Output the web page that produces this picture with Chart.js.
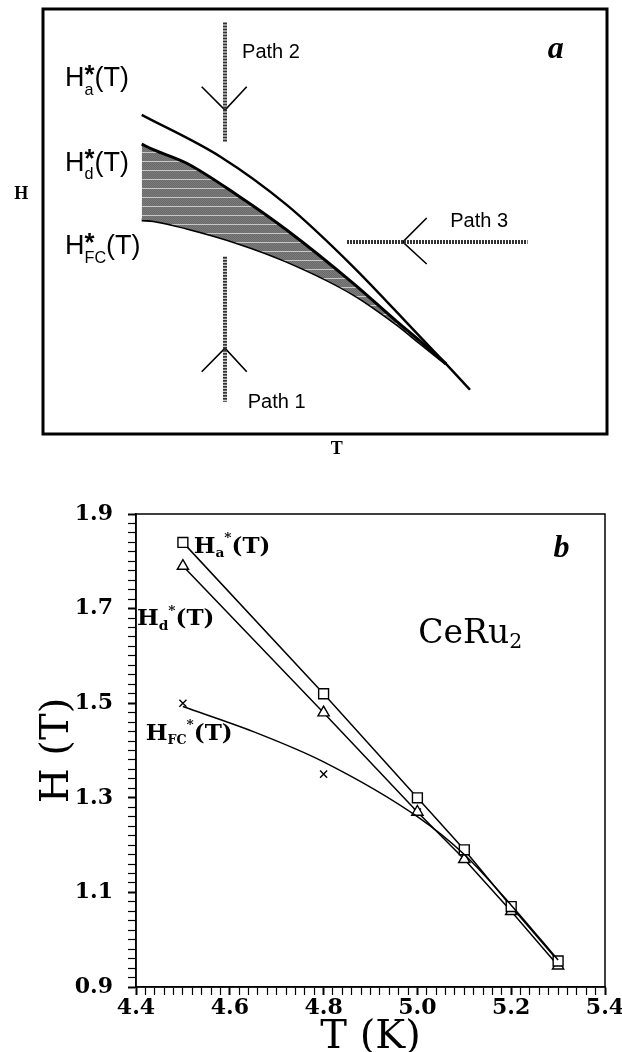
<!DOCTYPE html>
<html>
<head>
<meta charset="utf-8">
<script src="https://cdn.jsdelivr.net/npm/chart.js@4.4.1/dist/chart.umd.min.js"></script>
<style>
  html, body { margin: 0; padding: 0; background: #fff; overflow: hidden; }
  #wrap { position: relative; width: 622px; height: 1052px; }
  #sketch { position: absolute; left: 0; top: 0; }
  #data { position: absolute; left: 0; top: 470px; }
</style>
</head>
<body>
<div id="wrap">
  <canvas id="sketch" width="622" height="470"></canvas>
  <canvas id="data" width="622" height="582"></canvas>
</div>
<script>
// ---- panel a: schematic, arbitrary units (0-100 on both axes) ----
const sketchT = [17.5, 19.56, 25.48, 34.34, 43.21, 54.96, 62.7, 66.84, 71.45];
const sketchHd = [68.2, 66.9, 63.7, 56.3, 48.0, 35.5, 26.5, 21.9, 16.5];
const sketchHfc = [50.35, 50.2, 48.4, 45.0, 40.6, 32.9, 25.8, 21.4, 16.5];
const sketchHaT = [17.5, 31.38, 43.21, 54.96, 66.84, 71.45, 75.71];
const sketchHa = [75.1, 65.3, 53.9, 39.4, 22.9, 16.5, 10.4];

// measurement paths: [T, H] pairs
const path1Line = [[32.27, 41.7], [32.27, 7.6]];
const path1Arrow = [[28.14, 14.66], [32.27, 20.2], [36.12, 14.66]];
const path2Line = [[32.27, 96.8], [32.27, 68.8]];
const path2Arrow = [[28.14, 81.7], [32.27, 76.2], [36.12, 81.7]];
const path3Line = [[53.9, 45.18], [85.92, 45.18]];
const path3Arrow = [[68.03, 50.82], [63.79, 45.18], [68.03, 40.0]];

// ---- panel b: CeRu2 data ----
const tempK = [4.5, 4.8, 5.0, 5.1, 5.2, 5.3];
const hA = [1.84, 1.52, 1.30, 1.19, 1.07, 0.955];
const hD = [1.79, 1.48, 1.27, 1.17, 1.06, 0.945];
const hFC = [1.50, 1.35, 1.27, 1.178, 1.06, 0.95];
const fitT = [4.5, 4.65, 4.8, 5.0, 5.1, 5.2, 5.3];
const fitFC = [1.493, 1.44, 1.376, 1.26, 1.18, 1.073, 0.957];

const xy = (xs, ys) => xs.map((x, i) => ({x, y: ys[i]}));
const pairs = (p) => p.map(([x, y]) => ({x, y}));

// rich text: parts with relative size, vertical shift (em), and stacking
function drawRich(ctx, x, y, parts, f) {
  let pend = 0;
  for (const p of parts) {
    const s = f.size * (p.s || 1);
    ctx.font = `${f.style || 'normal'} ${p.w || f.weight || 'normal'} ${s}px ${f.family}`;
    const w = ctx.measureText(p.t).width;
    ctx.fillText(p.t, x, y + (p.dy || 0) * f.size);
    if (p.keep) { pend = w; } else { x += Math.max(w, pend); pend = 0; }
  }
}

const notesPlugin = {
  id: 'notes',
  afterDraw(chart, args, opts) {
    const {ctx, scales} = chart;
    ctx.save();
    ctx.fillStyle = '#000';
    ctx.textAlign = 'left';
    ctx.textBaseline = 'alphabetic';
    for (const n of opts.items) {
      drawRich(ctx, scales.x.getPixelForValue(n.x), scales.y.getPixelForValue(n.y), n.parts, n.font);
    }
    ctx.restore();
  }
};

const framePlugin = {
  id: 'frame',
  afterDraw(chart, args, opts) {
    const {ctx, chartArea: a} = chart;
    ctx.save();
    ctx.lineWidth = opts.width;
    ctx.strokeStyle = '#000';
    ctx.strokeRect(a.left, a.top, a.right - a.left, a.bottom - a.top);
    ctx.restore();
  }
};

// dark gray screen with faint light streaks, like the printed shading
function shading() {
  const c = document.createElement('canvas');
  c.width = 4; c.height = 9;
  const g = c.getContext('2d');
  g.fillStyle = '#7c7c7c'; g.fillRect(0, 0, 4, 9);
  g.fillStyle = '#6a6a6a';
  for (let r = 0; r < 8; r++) for (let k = r % 2; k < 4; k += 2) g.fillRect(k, r, 1, 1);
  g.fillStyle = '#c8c8c8'; g.fillRect(0, 8, 4, 1);
  return g.createPattern(c, 'repeat');
}

const sans = {family: '"Liberation Sans", Arial, sans-serif', size: 27};
const pathFont = {family: '"Liberation Sans", Arial, sans-serif', size: 20};
const starLabel = (sub) => [
  {t: 'H'}, {t: '*', s: 0.95, dy: -0.12, w: 'bold', keep: true}, {t: sub, s: 0.6, dy: 0.33}, {t: '(T)'}
];

const lineDs = (data, width, extra) => Object.assign({
  data, showLine: true, borderColor: '#000', borderWidth: width,
  pointRadius: 0, tension: 0, fill: false
}, extra || {});
const pathStyle = {borderColor: '#333', borderDash: [2, 1], borderCapStyle: 'butt'};

new Chart(document.getElementById('sketch'), {
  type: 'scatter',
  data: {
    datasets: [
      lineDs(xy(sketchHaT, sketchHa), 2.4, {cubicInterpolationMode: 'monotone'}),
      lineDs(xy(sketchT, sketchHd), 3, {cubicInterpolationMode: 'monotone', fill: {target: 2}, backgroundColor: shading()}),
      lineDs(xy(sketchT, sketchHfc), 3, {cubicInterpolationMode: 'monotone'}),
      lineDs(pairs(path1Line), 4, pathStyle),
      lineDs(pairs(path1Arrow), 1.6),
      lineDs(pairs(path2Line), 4, pathStyle),
      lineDs(pairs(path2Arrow), 1.6),
      lineDs(pairs(path3Line), 4, pathStyle),
      lineDs(pairs(path3Arrow), 1.6)
    ]
  },
  options: {
    responsive: false,
    animation: false,
    events: [],
    layout: {padding: {left: 43, top: 9, right: 15, bottom: 36}},
    scales: {
      x: {type: 'linear', min: 0, max: 100, display: false},
      y: {type: 'linear', min: 0, max: 100, display: false}
    },
    plugins: {
      legend: {display: false},
      tooltip: {enabled: false},
      frame: {width: 3},
      notes: {items: [
        {x: 3.9, y: 81.9, parts: starLabel('a'), font: sans},
        {x: 3.9, y: 62.0, parts: starLabel('d'), font: sans},
        {x: 3.9, y: 42.3, parts: starLabel('FC'), font: sans},
        {x: 35.3, y: 88.5, parts: [{t: 'Path 2'}], font: pathFont},
        {x: 72.2, y: 48.8, parts: [{t: 'Path 3'}], font: pathFont},
        {x: 36.3, y: 6.2, parts: [{t: 'Path 1'}], font: pathFont},
        {x: 89.5, y: 88.5, parts: [{t: 'a'}], font: {family: '"Liberation Serif", serif', size: 32, weight: 'bold', style: 'italic'}},
        {x: -5.1, y: 55.3, parts: [{t: 'H'}], font: {family: '"Liberation Serif", serif', size: 18, weight: 'bold'}},
        {x: 51.0, y: -4.7, parts: [{t: 'T'}], font: {family: '"Liberation Serif", serif', size: 18, weight: 'bold'}}
      ]}
    }
  },
  plugins: [framePlugin, notesPlugin]
});

// ---- panel b ----
const serif = '"DejaVu Serif", serif';
const tickFont = {family: serif, size: 22, weight: 'bold', lineHeight: 1.2};
const isMajor = (v) => Math.round(v * 100) % 20 === 0;
const isMajorY = (v) => Math.round(v * 100) % 20 === 10;
const labelFont = {family: serif, size: 23, weight: 'bold'};

new Chart(document.getElementById('data'), {
  type: 'scatter',
  data: {
    datasets: [
      {data: xy(fitT, fitFC), showLine: true, borderColor: '#000', borderWidth: 1.5, pointRadius: 0,
        cubicInterpolationMode: 'monotone'},
      {data: xy(tempK, hA), showLine: true, borderColor: '#000', borderWidth: 1.5, tension: 0,
        pointStyle: 'rect', pointRadius: 7, pointBorderWidth: 1.4, pointBackgroundColor: '#fff'},
      {data: xy(tempK, hD), showLine: true, borderColor: '#000', borderWidth: 1.5, tension: 0,
        pointStyle: 'triangle', pointRadius: 6.5, pointBorderWidth: 1.4, pointBackgroundColor: '#fff'},
      {data: xy(tempK, hFC), showLine: false, borderColor: '#000',
        pointStyle: 'crossRot', pointRadius: 5, pointBorderWidth: 1.4}
    ]
  },
  options: {
    responsive: false,
    animation: false,
    events: [],
    layout: {padding: {left: 0, top: 44, right: 17, bottom: 0}},
    scales: {
      x: {
        type: 'linear', min: 4.4, max: 5.4,
        afterFit: (s) => { s.height = 65; s.paddingRight = 0; s.paddingLeft = 0; },
        border: {display: true, color: '#000', width: 1.5},
        grid: {drawOnChartArea: false, tickLength: 8, tickColor: '#000',
          tickWidth: (c) => (c.tick && isMajor(c.tick.value) ? 2 : 1.2)},
        ticks: {stepSize: 0.02, autoSkip: false, maxRotation: 0, padding: 0, color: '#000', font: tickFont,
          callback: (v) => (isMajor(v) ? v.toFixed(1) : '')},
        title: {display: true, text: 'T (K)', color: '#000',
          font: {family: serif, size: 40, lineHeight: 1}, padding: {top: 0, bottom: -6}}
      },
      y: {
        type: 'linear', min: 0.9, max: 1.9,
        afterFit: (s) => { s.width = 136; },
        border: {display: true, color: '#000', width: 1.5},
        grid: {drawOnChartArea: false, tickLength: 8, tickColor: '#000',
          tickWidth: (c) => (c.tick && isMajorY(c.tick.value) ? 2 : 1.2)},
        ticks: {stepSize: 0.02, autoSkip: false, padding: 15, color: '#000', font: tickFont,
          callback: (v) => (isMajorY(v) ? v.toFixed(1) : '')},
        title: {display: true, text: 'H (T)', color: '#000',
          font: {family: serif, size: 40, lineHeight: 1.2}, padding: {top: 34, bottom: 0}}
      }
    },
    plugins: {
      legend: {display: false},
      tooltip: {enabled: false},
      frame: {width: 1.5},
      notes: {items: [
        {x: 4.523, y: 1.818, parts: [{t: 'H'}, {t: 'a', s: 0.6, dy: 0.2}, {t: '*', s: 0.6, dy: -0.45}, {t: '(T)'}], font: labelFont},
        {x: 4.402, y: 1.665, parts: [{t: 'H'}, {t: 'd', s: 0.6, dy: 0.2}, {t: '*', s: 0.6, dy: -0.45}, {t: '(T)'}], font: labelFont},
        {x: 4.421, y: 1.423, parts: [{t: 'H'}, {t: 'FC', s: 0.55, dy: 0.2}, {t: '*', s: 0.6, dy: -0.45}, {t: '(T)'}], font: labelFont},
        {x: 5.002, y: 1.628, parts: [{t: 'CeRu'}, {t: '2', s: 0.62, dy: 0.15}], font: {family: serif, size: 33}},
        {x: 5.29, y: 1.81, parts: [{t: 'b'}], font: {family: '"Liberation Serif", serif', size: 32, weight: 'bold', style: 'italic'}}
      ]}
    }
  },
  plugins: [framePlugin, notesPlugin]
});
</script>
</body>
</html>
